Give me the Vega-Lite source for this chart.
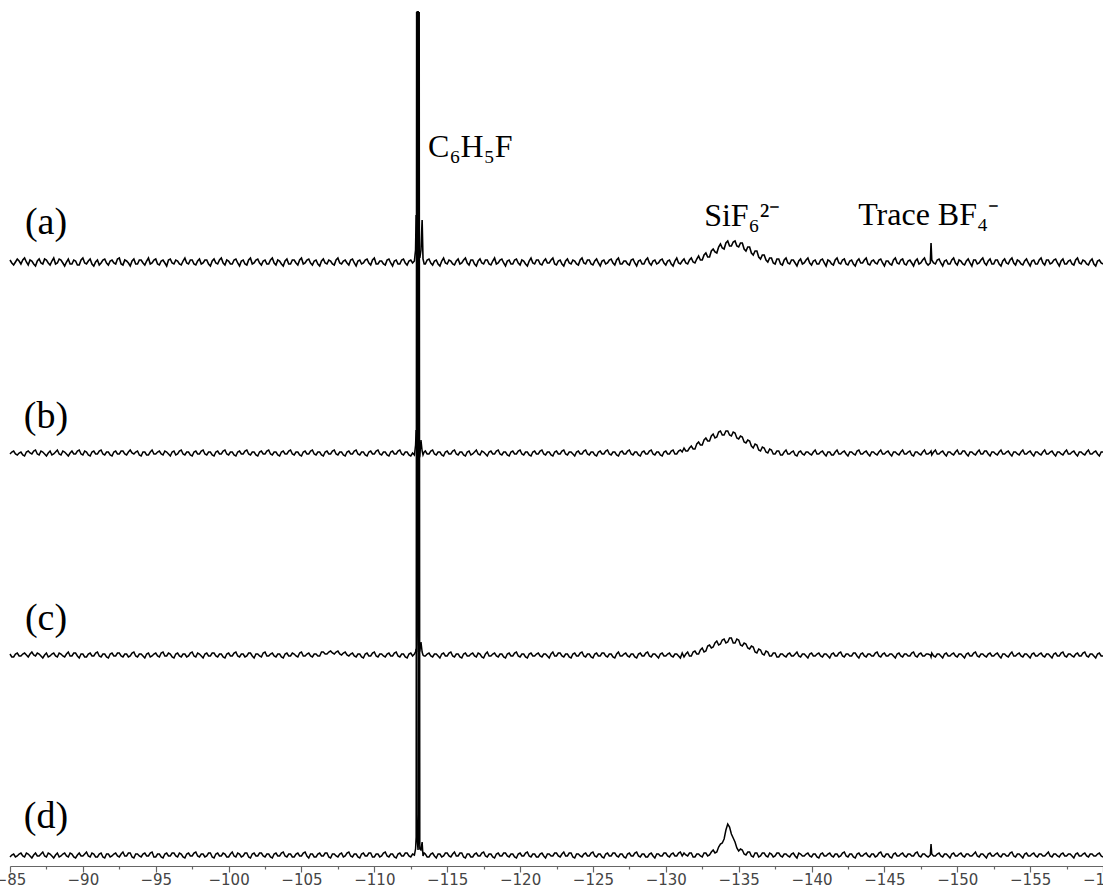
{
"$schema": "https://vega.github.io/schema/vega-lite/v6.json",
"width": 1093,
"height": 866,
"autosize": {"type": "none"},
"padding": {"left": 10, "top": 0, "right": 0, "bottom": 22},
"background": "white",
"config": {"view": {"stroke": null}},
"data": {"values": [
{"p":-85,"a":2,"b":-1,"c":1,"d":-2},{"p":-85.125,"a":-1,"b":1,"c":-2,"d":0},{"p":-85.25,"a":-3,"b":2,"c":-2,"d":1},{"p":-85.375,"a":0,"b":-1,"c":1,"d":-2},
{"p":-85.5,"a":3,"b":-2,"c":2,"d":-1},{"p":-85.625,"a":1,"b":0,"c":-1,"d":1},{"p":-85.75,"a":-2,"b":1,"c":-1,"d":2},{"p":-85.875,"a":2,"b":-2,"c":1,"d":-1},
{"p":-86,"a":4,"b":-3,"c":2,"d":-2},{"p":-86.125,"a":0,"b":1,"c":0,"d":2},{"p":-86.25,"a":-3,"b":2,"c":-2,"d":1},{"p":-86.375,"a":2,"b":0,"c":1,"d":-1},
{"p":-86.5,"a":1,"b":-1,"c":3,"d":-3},{"p":-86.625,"a":-2,"b":2,"c":0,"d":0},{"p":-86.75,"a":-4,"b":3,"c":-1,"d":2},{"p":-86.875,"a":1,"b":-1,"c":2,"d":-1},
{"p":-87,"a":3,"b":-2,"c":1,"d":-1},{"p":-87.125,"a":-1,"b":2,"c":-1,"d":1},{"p":-87.25,"a":-2,"b":1,"c":-3,"d":3},{"p":-87.375,"a":3,"b":-1,"c":0,"d":-1},
{"p":-87.5,"a":2,"b":-3,"c":2,"d":-2},{"p":-87.625,"a":-1,"b":0,"c":-2,"d":2},{"p":-87.75,"a":-3,"b":2,"c":-1,"d":1},{"p":-87.875,"a":1,"b":-2,"c":1,"d":-1},
{"p":-88,"a":4,"b":-1,"c":2,"d":-3},{"p":-88.125,"a":-2,"b":1,"c":-1,"d":0},{"p":-88.25,"a":-1,"b":3,"c":-2,"d":2},{"p":-88.375,"a":3,"b":-1,"c":2,"d":-2},
{"p":-88.5,"a":2,"b":-2,"c":1,"d":-1},{"p":-88.625,"a":-1,"b":2,"c":-1,"d":1},{"p":-88.75,"a":-4,"b":1,"c":-2,"d":2},{"p":-88.875,"a":0,"b":-1,"c":1,"d":-1},
{"p":-89,"a":3,"b":-3,"c":3,"d":-2},{"p":-89.125,"a":-2,"b":0,"c":-1,"d":2},{"p":-89.25,"a":-2,"b":2,"c":-1,"d":1},{"p":-89.375,"a":2,"b":-1,"c":2,"d":-2},
{"p":-89.5,"a":1,"b":-1,"c":2,"d":-3},{"p":-89.625,"a":-3,"b":2,"c":-1,"d":0},{"p":-89.75,"a":-3,"b":3,"c":-3,"d":2},{"p":-89.875,"a":2,"b":-1,"c":1,"d":-1},
{"p":-90,"a":4,"b":-2,"c":1,"d":-1},{"p":-90.125,"a":-1,"b":2,"c":-2,"d":1},{"p":-90.25,"a":-2,"b":1,"c":-2,"d":3},{"p":-90.375,"a":1,"b":-2,"c":1,"d":-1},
{"p":-90.5,"a":3,"b":-3,"c":2,"d":-2},{"p":-90.625,"a":-2,"b":1,"c":-1,"d":2},{"p":-90.75,"a":-4,"b":2,"c":-1,"d":1},{"p":-90.875,"a":0,"b":-1,"c":2,"d":-2},
{"p":-91,"a":2,"b":-1,"c":3,"d":-2},{"p":-91.125,"a":-3,"b":2,"c":-1,"d":1},{"p":-91.25,"a":-1,"b":3,"c":-2,"d":2},{"p":-91.375,"a":2,"b":-1,"c":1,"d":-2},
{"p":-91.5,"a":3,"b":-2,"c":1,"d":-3},{"p":-91.625,"a":-1,"b":1,"c":-2,"d":1},{"p":-91.75,"a":-3,"b":1,"c":-3,"d":1},{"p":-91.875,"a":1,"b":-2,"c":1,"d":-2},
{"p":-92,"a":2,"b":-3,"c":2,"d":-1},{"p":-92.125,"a":-1,"b":1,"c":-1,"d":1},{"p":-92.25,"a":-2,"b":2,"c":-1,"d":2},{"p":-92.375,"a":3,"b":-1,"c":2,"d":-1},
{"p":-92.5,"a":4,"b":-1,"c":2,"d":-2},{"p":-92.625,"a":-2,"b":2,"c":-1,"d":1},{"p":-92.75,"a":-3,"b":2,"c":-2,"d":3},{"p":-92.875,"a":2,"b":-1,"c":1,"d":-1},
{"p":-93,"a":1,"b":-2,"c":1,"d":-1},{"p":-93.125,"a":-1,"b":1,"c":-2,"d":2},{"p":-93.25,"a":-4,"b":3,"c":-1,"d":2},{"p":-93.375,"a":1,"b":0,"c":2,"d":-2},
{"p":-93.5,"a":3,"b":-1,"c":3,"d":-3},{"p":-93.625,"a":-2,"b":1,"c":-1,"d":1},{"p":-93.75,"a":-2,"b":2,"c":-2,"d":1},{"p":-93.875,"a":2,"b":-2,"c":1,"d":-1},
{"p":-94,"a":2,"b":-3,"c":1,"d":-2},{"p":-94.125,"a":-1,"b":1,"c":-1,"d":1},{"p":-94.25,"a":-3,"b":1,"c":-3,"d":2},{"p":-94.375,"a":1,"b":-2,"c":1,"d":-1},
{"p":-94.5,"a":4,"b":-2,"c":2,"d":-1},{"p":-94.625,"a":-2,"b":1,"c":-2,"d":2},{"p":-94.75,"a":-1,"b":3,"c":-1,"d":3},{"p":-94.875,"a":2,"b":-1,"c":1,"d":-2},
{"p":-95,"a":3,"b":-1,"c":2,"d":-2},{"p":-95.125,"a":-2,"b":1,"c":-1,"d":1},{"p":-95.25,"a":-3,"b":2,"c":-2,"d":1},{"p":-95.375,"a":1,"b":-1,"c":2,"d":-2},
{"p":-95.5,"a":2,"b":-2,"c":3,"d":-3},{"p":-95.625,"a":-1,"b":2,"c":-1,"d":1},{"p":-95.75,"a":-4,"b":1,"c":-1,"d":2},{"p":-95.875,"a":2,"b":-1,"c":2,"d":-1},
{"p":-96,"a":3,"b":-3,"c":1,"d":-1},{"p":-96.125,"a":-1,"b":1,"c":-2,"d":2},{"p":-96.25,"a":-2,"b":2,"c":-3,"d":2},{"p":-96.375,"a":2,"b":-2,"c":1,"d":-1},
{"p":-96.5,"a":1,"b":-1,"c":2,"d":-2},{"p":-96.625,"a":-2,"b":2,"c":-1,"d":2},{"p":-96.75,"a":-3,"b":3,"c":-2,"d":1},{"p":-96.875,"a":1,"b":-1,"c":1,"d":-2},
{"p":-97,"a":4,"b":-2,"c":1,"d":-3},{"p":-97.125,"a":-1,"b":1,"c":-2,"d":1},{"p":-97.25,"a":-2,"b":1,"c":-1,"d":2},{"p":-97.375,"a":2,"b":-2,"c":2,"d":-1},
{"p":-97.5,"a":2,"b":-3,"c":3,"d":-1},{"p":-97.625,"a":-2,"b":1,"c":-1,"d":2},{"p":-97.75,"a":-3,"b":2,"c":-2,"d":3},{"p":-97.875,"a":1,"b":-1,"c":2,"d":-1},
{"p":-98,"a":3,"b":-1,"c":1,"d":-2},{"p":-98.125,"a":-2,"b":2,"c":-1,"d":1},{"p":-98.25,"a":-1,"b":3,"c":-3,"d":1},{"p":-98.375,"a":2,"b":-1,"c":1,"d":-2},
{"p":-98.5,"a":2,"b":-2,"c":2,"d":-1},{"p":-98.625,"a":-2,"b":1,"c":-1,"d":2},{"p":-98.75,"a":-4,"b":1,"c":-1,"d":2},{"p":-98.875,"a":1,"b":-2,"c":2,"d":-2},
{"p":-99,"a":3,"b":-3,"c":2,"d":-3},{"p":-99.125,"a":-1,"b":1,"c":-1,"d":1},{"p":-99.25,"a":-2,"b":2,"c":-2,"d":2},{"p":-99.375,"a":2,"b":-1,"c":1,"d":-1},
{"p":-99.5,"a":4,"b":-1,"c":1,"d":-1},{"p":-99.625,"a":-1,"b":2,"c":-2,"d":2},{"p":-99.75,"a":-3,"b":3,"c":-3,"d":1},{"p":-99.875,"a":2,"b":-1,"c":1,"d":-2},
{"p":-100,"a":1,"b":-2,"c":2,"d":-2},{"p":-100.125,"a":-2,"b":1,"c":-1,"d":1},{"p":-100.25,"a":-2,"b":1,"c":-1,"d":3},{"p":-100.375,"a":2,"b":-2,"c":2,"d":-1},
{"p":-100.5,"a":3,"b":-3,"c":3,"d":-2},{"p":-100.625,"a":-1,"b":1,"c":-1,"d":2},{"p":-100.75,"a":-4,"b":2,"c":-2,"d":1},{"p":-100.875,"a":1,"b":-1,"c":1,"d":-2},
{"p":-101,"a":2,"b":-1,"c":1,"d":-1},{"p":-101.125,"a":-2,"b":2,"c":-2,"d":2},{"p":-101.25,"a":-3,"b":3,"c":-1,"d":2},{"p":-101.375,"a":2,"b":-1,"c":2,"d":-2},
{"p":-101.5,"a":4,"b":-2,"c":2,"d":-3},{"p":-101.625,"a":-2,"b":1,"c":-1,"d":1},{"p":-101.75,"a":-1,"b":1,"c":-3,"d":2},{"p":-101.875,"a":2,"b":-2,"c":1,"d":-1},
{"p":-102,"a":3,"b":-3,"c":1,"d":-1},{"p":-102.125,"a":-1,"b":1,"c":-1,"d":2},{"p":-102.25,"a":-3,"b":2,"c":-2,"d":2},{"p":-102.375,"a":1,"b":-1,"c":2,"d":-1},
{"p":-102.5,"a":2,"b":-1,"c":3,"d":-2},{"p":-102.625,"a":-2,"b":2,"c":-1,"d":1},{"p":-102.75,"a":-2,"b":3,"c":-1,"d":1},{"p":-102.875,"a":2,"b":-1,"c":1,"d":-2},
{"p":-103,"a":4,"b":-2,"c":2,"d":-3},{"p":-103.125,"a":-1,"b":1,"c":-1,"d":1},{"p":-103.25,"a":-3,"b":1,"c":-2,"d":2},{"p":-103.375,"a":2,"b":-2,"c":1,"d":-1},
{"p":-103.5,"a":1,"b":-3,"c":1,"d":-1},{"p":-103.625,"a":-2,"b":1,"c":-2,"d":2},{"p":-103.75,"a":-4,"b":2,"c":-3,"d":3},{"p":-103.875,"a":1,"b":-1,"c":1,"d":-1},
{"p":-104,"a":3,"b":-1,"c":2,"d":-2},{"p":-104.125,"a":-2,"b":2,"c":-1,"d":1},{"p":-104.25,"a":-2,"b":3,"c":-1,"d":1},{"p":-104.375,"a":2,"b":-1,"c":2,"d":-2},
{"p":-104.5,"a":2,"b":-2,"c":1,"d":-2},{"p":-104.625,"a":-1,"b":1,"c":-1,"d":1},{"p":-104.75,"a":-3,"b":1,"c":-2,"d":2},{"p":-104.875,"a":2,"b":-2,"c":2,"d":-1},
{"p":-105,"a":4,"b":-3,"c":3,"d":-1},{"p":-105.125,"a":-2,"b":1,"c":-1,"d":2},{"p":-105.25,"a":-1,"b":2,"c":-1,"d":3},{"p":-105.375,"a":2,"b":-1,"c":1,"d":-1},
{"p":-105.5,"a":3,"b":-1,"c":2,"d":-3},{"p":-105.625,"a":-1,"b":2,"c":-1,"d":1},{"p":-105.75,"a":-3,"b":3,"c":-2,"d":1},{"p":-105.875,"a":1,"b":-1,"c":1,"d":-2},
{"p":-106,"a":2,"b":-2,"c":1,"d":-2},{"p":-106.125,"a":-2,"b":1,"c":-1,"d":1},{"p":-106.25,"a":-4,"b":1,"c":-1,"d":2},{"p":-106.375,"a":1,"b":-2,"c":3,"d":-1},
{"p":-106.5,"a":3,"b":-3,"c":3,"d":-1},{"p":-106.625,"a":-1,"b":1,"c":1,"d":2},{"p":-106.75,"a":-2,"b":2,"c":1,"d":2},{"p":-106.875,"a":2,"b":-1,"c":3,"d":-2},
{"p":-107,"a":1,"b":-1,"c":4,"d":-3},{"p":-107.125,"a":-2,"b":2,"c":2,"d":1},{"p":-107.25,"a":-3,"b":3,"c":1,"d":1},{"p":-107.375,"a":2,"b":-1,"c":3,"d":-1},
{"p":-107.5,"a":4,"b":-2,"c":4,"d":-2},{"p":-107.625,"a":-1,"b":1,"c":1,"d":1},{"p":-107.75,"a":-2,"b":1,"c":0,"d":2},{"p":-107.875,"a":1,"b":-2,"c":2,"d":-2},
{"p":-108,"a":2,"b":-3,"c":3,"d":-1},{"p":-108.125,"a":-1,"b":1,"c":0,"d":2},{"p":-108.25,"a":-3,"b":2,"c":-1,"d":3},{"p":-108.375,"a":2,"b":-1,"c":1,"d":-1},
{"p":-108.5,"a":3,"b":-1,"c":2,"d":-2},{"p":-108.625,"a":-1,"b":2,"c":-1,"d":1},{"p":-108.75,"a":-4,"b":3,"c":-2,"d":1},{"p":-108.875,"a":1,"b":-1,"c":1,"d":-2},
{"p":-109,"a":2,"b":-2,"c":1,"d":-3},{"p":-109.125,"a":-2,"b":1,"c":-2,"d":1},{"p":-109.25,"a":-1,"b":1,"c":-3,"d":2},{"p":-109.375,"a":2,"b":-2,"c":1,"d":-1},
{"p":-109.5,"a":3,"b":-3,"c":2,"d":-1},{"p":-109.625,"a":-1,"b":1,"c":-1,"d":2},{"p":-109.75,"a":-3,"b":2,"c":-1,"d":2},{"p":-109.875,"a":2,"b":-1,"c":2,"d":-2},
{"p":-110,"a":4,"b":-1,"c":3,"d":-2},{"p":-110.125,"a":-2,"b":2,"c":-1,"d":1},{"p":-110.25,"a":-2,"b":3,"c":-2,"d":1},{"p":-110.375,"a":1,"b":-1,"c":1,"d":-2},
{"p":-110.5,"a":1,"b":-2,"c":1,"d":-1},{"p":-110.625,"a":-2,"b":1,"c":-1,"d":2},{"p":-110.75,"a":-3,"b":1,"c":-2,"d":3},{"p":-110.875,"a":2,"b":-2,"c":1,"d":-1},
{"p":-111,"a":3,"b":-3,"c":2,"d":-2},{"p":-111.125,"a":-1,"b":1,"c":-1,"d":1},{"p":-111.25,"a":-4,"b":2,"c":-1,"d":1},{"p":-111.375,"a":1,"b":-1,"c":2,"d":-2},
{"p":-111.5,"a":2,"b":-1,"c":3,"d":-3},{"p":-111.625,"a":-2,"b":2,"c":-1,"d":1},{"p":-111.75,"a":-2,"b":3,"c":-2,"d":2},{"p":-111.875,"a":2,"b":-1,"c":1,"d":-1},
{"p":-112,"a":3,"b":-2,"c":1,"d":-1},{"p":-112.125,"a":-1,"b":1,"c":-2,"d":2},{"p":-112.25,"a":-3,"b":1,"c":-3,"d":2},{"p":-112.375,"a":1,"b":-2,"c":1,"d":-1},
{"p":-112.5,"a":2,"b":-3,"c":2,"d":-2},{"p":-112.625,"a":-1,"b":0,"c":-1,"d":1},
{"p":-112.75,"a":1,"b":-2,"c":1,"d":0},{"p":-112.83,"a":12,"b":8,"c":3,"d":6},{"p":-112.87,"a":47,"b":23,"c":6,"d":18},{"p":-112.9,"a":20,"b":10,"c":3,"d":843},
{"p":-112.93,"a":60,"b":20,"c":20,"d":40},{"p":-112.96,"a":250,"b":441,"c":643,"d":12},{"p":-113.0,"a":250,"b":441,"c":643,"d":5},{"p":-113.04,"a":20,"b":-8,"c":10,"d":20},
{"p":-113.08,"a":6,"b":-5,"c":3,"d":843},{"p":-113.12,"a":4,"b":-3,"c":4,"d":6},{"p":-113.2,"a":12,"b":13,"c":13,"d":5},{"p":-113.28,"a":42,"b":2,"c":3,"d":13},
{"p":-113.34,"a":3,"b":-2,"c":0,"d":-1},{"p":-113.42,"a":-2,"b":1,"c":-1,"d":2},
{"p":-113.5,"a":-2,"b":2,"c":-1,"d":1},{"p":-113.625,"a":2,"b":-1,"c":1,"d":-2},{"p":-113.75,"a":3,"b":-1,"c":2,"d":-2},{"p":-113.875,"a":-1,"b":2,"c":-1,"d":1},
{"p":-114,"a":-3,"b":3,"c":-2,"d":2},{"p":-114.125,"a":1,"b":-1,"c":1,"d":-1},{"p":-114.25,"a":2,"b":-2,"c":1,"d":-3},{"p":-114.375,"a":-2,"b":1,"c":-1,"d":1},
{"p":-114.5,"a":-4,"b":1,"c":-3,"d":1},{"p":-114.625,"a":1,"b":-2,"c":1,"d":-2},{"p":-114.75,"a":4,"b":-3,"c":2,"d":-1},{"p":-114.875,"a":-1,"b":1,"c":-1,"d":2},
{"p":-115,"a":-2,"b":2,"c":-1,"d":2},{"p":-115.125,"a":2,"b":-1,"c":2,"d":-1},{"p":-115.25,"a":1,"b":-1,"c":3,"d":-2},{"p":-115.375,"a":-2,"b":2,"c":-1,"d":1},
{"p":-115.5,"a":-3,"b":3,"c":-2,"d":3},{"p":-115.625,"a":1,"b":-1,"c":1,"d":-1},{"p":-115.75,"a":3,"b":-2,"c":1,"d":-1},{"p":-115.875,"a":-2,"b":1,"c":-2,"d":2},
{"p":-116,"a":-1,"b":1,"c":-3,"d":2},{"p":-116.125,"a":2,"b":-2,"c":1,"d":-2},{"p":-116.25,"a":4,"b":-3,"c":2,"d":-3},{"p":-116.375,"a":-1,"b":1,"c":-1,"d":1},
{"p":-116.5,"a":-3,"b":2,"c":-1,"d":1},{"p":-116.625,"a":2,"b":-2,"c":1,"d":-2},{"p":-116.75,"a":2,"b":-1,"c":2,"d":-2},{"p":-116.875,"a":-2,"b":1,"c":-1,"d":1},
{"p":-117,"a":-4,"b":3,"c":-2,"d":2},{"p":-117.125,"a":1,"b":-1,"c":2,"d":-1},{"p":-117.25,"a":3,"b":-2,"c":1,"d":-1},{"p":-117.375,"a":-1,"b":2,"c":-2,"d":2},
{"p":-117.5,"a":-2,"b":1,"c":-3,"d":3},{"p":-117.625,"a":2,"b":-1,"c":1,"d":-1},{"p":-117.75,"a":2,"b":-3,"c":3,"d":-2},{"p":-117.875,"a":-2,"b":1,"c":-1,"d":1},
{"p":-118,"a":-3,"b":2,"c":-1,"d":1},{"p":-118.125,"a":1,"b":-1,"c":1,"d":-2},{"p":-118.25,"a":4,"b":-1,"c":2,"d":-3},{"p":-118.375,"a":-2,"b":2,"c":-1,"d":1},
{"p":-118.5,"a":-1,"b":3,"c":-2,"d":2},{"p":-118.625,"a":2,"b":-1,"c":1,"d":-1},{"p":-118.75,"a":3,"b":-2,"c":1,"d":-1},{"p":-118.875,"a":-1,"b":1,"c":-2,"d":2},
{"p":-119,"a":-4,"b":1,"c":-3,"d":2},{"p":-119.125,"a":1,"b":-2,"c":1,"d":-1},{"p":-119.25,"a":2,"b":-3,"c":2,"d":-2},{"p":-119.375,"a":-2,"b":1,"c":-1,"d":1},
{"p":-119.5,"a":-2,"b":2,"c":-1,"d":1},{"p":-119.625,"a":2,"b":-1,"c":2,"d":-2},{"p":-119.75,"a":3,"b":-1,"c":3,"d":-3},{"p":-119.875,"a":-1,"b":2,"c":-1,"d":1},
{"p":-120,"a":-3,"b":3,"c":-2,"d":2},{"p":-120.125,"a":2,"b":-1,"c":1,"d":-1},{"p":-120.25,"a":1,"b":-2,"c":1,"d":-1},{"p":-120.375,"a":-2,"b":1,"c":-2,"d":2},
{"p":-120.5,"a":-4,"b":1,"c":-3,"d":3},{"p":-120.625,"a":1,"b":-2,"c":1,"d":-1},{"p":-120.75,"a":4,"b":-3,"c":2,"d":-2},{"p":-120.875,"a":-1,"b":1,"c":-1,"d":1},
{"p":-121,"a":-2,"b":2,"c":-1,"d":1},{"p":-121.125,"a":2,"b":-1,"c":1,"d":-2},{"p":-121.25,"a":2,"b":-1,"c":2,"d":-2},{"p":-121.375,"a":-2,"b":2,"c":-1,"d":1},
{"p":-121.5,"a":-3,"b":3,"c":-2,"d":2},{"p":-121.625,"a":1,"b":-1,"c":1,"d":-1},{"p":-121.75,"a":3,"b":-2,"c":1,"d":-3},{"p":-121.875,"a":-1,"b":1,"c":-1,"d":1},
{"p":-122,"a":-1,"b":1,"c":-3,"d":1},{"p":-122.125,"a":2,"b":-2,"c":1,"d":-1},{"p":-122.25,"a":4,"b":-3,"c":3,"d":-1},{"p":-122.375,"a":-2,"b":1,"c":-1,"d":2},
{"p":-122.5,"a":-3,"b":2,"c":-1,"d":2},{"p":-122.625,"a":1,"b":-1,"c":2,"d":-1},{"p":-122.75,"a":2,"b":-1,"c":2,"d":-2},{"p":-122.875,"a":-2,"b":2,"c":-1,"d":1},
{"p":-123,"a":-4,"b":3,"c":-2,"d":3},{"p":-123.125,"a":1,"b":-1,"c":1,"d":-1},{"p":-123.25,"a":3,"b":-2,"c":1,"d":-1},{"p":-123.375,"a":-1,"b":1,"c":-2,"d":2},
{"p":-123.5,"a":-2,"b":1,"c":-3,"d":2},{"p":-123.625,"a":2,"b":-1,"c":1,"d":-2},{"p":-123.75,"a":1,"b":-3,"c":2,"d":-3},{"p":-123.875,"a":-2,"b":1,"c":-1,"d":1},
{"p":-124,"a":-3,"b":2,"c":-1,"d":1},{"p":-124.125,"a":2,"b":-1,"c":2,"d":-1},{"p":-124.25,"a":4,"b":-1,"c":3,"d":-2},{"p":-124.375,"a":-1,"b":2,"c":-1,"d":1},
{"p":-124.5,"a":-2,"b":3,"c":-2,"d":2},{"p":-124.625,"a":2,"b":-1,"c":1,"d":-1},{"p":-124.75,"a":2,"b":-2,"c":1,"d":-1},{"p":-124.875,"a":-2,"b":1,"c":-2,"d":2},
{"p":-125,"a":-3,"b":1,"c":-3,"d":3},{"p":-125.125,"a":1,"b":-2,"c":1,"d":-1},{"p":-125.25,"a":3,"b":-3,"c":2,"d":-2},{"p":-125.375,"a":-1,"b":1,"c":-1,"d":1},
{"p":-125.5,"a":-4,"b":2,"c":-1,"d":1},{"p":-125.625,"a":1,"b":-1,"c":2,"d":-2},{"p":-125.75,"a":2,"b":-1,"c":2,"d":-3},{"p":-125.875,"a":-2,"b":2,"c":-1,"d":1},
{"p":-126,"a":-1,"b":3,"c":-2,"d":2},{"p":-126.125,"a":2,"b":-1,"c":1,"d":-1},{"p":-126.25,"a":3,"b":-2,"c":1,"d":-1},{"p":-126.375,"a":-1,"b":1,"c":-2,"d":2},
{"p":-126.5,"a":-3,"b":1,"c":-3,"d":2},{"p":-126.625,"a":2,"b":-2,"c":1,"d":-1},{"p":-126.75,"a":4,"b":-3,"c":3,"d":-2},{"p":-126.875,"a":-2,"b":1,"c":-1,"d":1},
{"p":-127,"a":-2,"b":2,"c":-1,"d":1},{"p":-127.125,"a":1,"b":-1,"c":1,"d":-2},{"p":-127.25,"a":1,"b":-1,"c":2,"d":-3},{"p":-127.375,"a":-2,"b":2,"c":-1,"d":1},
{"p":-127.5,"a":-3,"b":3,"c":-2,"d":2},{"p":-127.625,"a":2,"b":-1,"c":1,"d":-1},{"p":-127.75,"a":3,"b":-2,"c":1,"d":-1},{"p":-127.875,"a":-1,"b":1,"c":-2,"d":2},
{"p":-128,"a":-4,"b":1,"c":-3,"d":3},{"p":-128.125,"a":1,"b":-2,"c":1,"d":-1},{"p":-128.25,"a":2,"b":-3,"c":2,"d":-2},{"p":-128.375,"a":-2,"b":1,"c":-1,"d":1},
{"p":-128.5,"a":-2,"b":2,"c":-1,"d":1},{"p":-128.625,"a":2,"b":-1,"c":2,"d":-2},{"p":-128.75,"a":4,"b":-1,"c":3,"d":-2},{"p":-128.875,"a":-1,"b":2,"c":-1,"d":1},
{"p":-129,"a":-3,"b":3,"c":-2,"d":2},{"p":-129.125,"a":1,"b":-1,"c":1,"d":-1},{"p":-129.25,"a":2,"b":-2,"c":1,"d":-3},{"p":-129.375,"a":-2,"b":1,"c":-1,"d":1},
{"p":-129.5,"a":-1,"b":1,"c":-3,"d":1},{"p":-129.625,"a":2,"b":-2,"c":1,"d":-1},{"p":-129.75,"a":3,"b":-3,"c":2,"d":-1},{"p":-129.875,"a":-1,"b":1,"c":-1,"d":2},
{"p":-130,"a":-3,"b":2,"c":-1,"d":2},{"p":-130.125,"a":1,"b":-1,"c":1,"d":-1},{"p":-130.25,"a":2,"b":-1,"c":2,"d":-2},{"p":-130.375,"a":-2,"b":2,"c":-1,"d":1},
{"p":-130.5,"a":-4,"b":3,"c":-2,"d":2},{"p":-130.625,"a":1,"b":-1,"c":1,"d":-1},{"p":-130.75,"a":4,"b":-1,"c":1,"d":-1},{"p":-130.875,"a":-1,"b":2,"c":-1,"d":2},
{"p":-131,"a":-2,"b":3,"c":-3,"d":3},{"p":-131.125,"a":1,"b":1,"c":2,"d":-1},{"p":-131.25,"a":3,"b":5,"c":-2,"d":2},{"p":-131.375,"a":-1,"b":2,"c":1,"d":0},
{"p":-131.5,"a":-2,"b":2,"c":3,"d":-1},{"p":-131.625,"a":2,"b":5,"c":-1,"d":2},{"p":-131.75,"a":4,"b":7,"c":-1,"d":2},{"p":-131.875,"a":0,"b":4,"c":3,"d":-2},
{"p":-132,"a":-1,"b":4,"c":4,"d":-2},{"p":-132.125,"a":3,"b":9,"c":1,"d":1},{"p":-132.25,"a":6,"b":11,"c":1,"d":1},{"p":-132.375,"a":2,"b":8,"c":5,"d":-1},
{"p":-132.5,"a":2,"b":8,"c":7,"d":-2},{"p":-132.625,"a":7,"b":13,"c":3,"d":2},{"p":-132.75,"a":9,"b":15,"c":4,"d":2},{"p":-132.875,"a":5,"b":12,"c":9,"d":-1},
{"p":-133,"a":5,"b":12,"c":10,"d":0},{"p":-133.125,"a":11,"b":17,"c":7,"d":3},{"p":-133.25,"a":13,"b":19,"c":8,"d":5},{"p":-133.375,"a":10,"b":15,"c":12,"d":2},
{"p":-133.5,"a":9,"b":16,"c":14,"d":3},{"p":-133.625,"a":15,"b":21,"c":10,"d":8},{"p":-133.75,"a":18,"b":22,"c":11,"d":11},{"p":-133.875,"a":14,"b":18,"c":15,"d":12},
{"p":-134,"a":13,"b":18,"c":16,"d":16},{"p":-134.125,"a":19,"b":22,"c":12,"d":25},{"p":-134.25,"a":21,"b":22,"c":13,"d":31},{"p":-134.375,"a":16,"b":18,"c":17,"d":28},
{"p":-134.5,"a":16,"b":17,"c":17,"d":21},{"p":-134.625,"a":20,"b":21,"c":12,"d":17},{"p":-134.75,"a":21,"b":20,"c":12,"d":13},{"p":-134.875,"a":16,"b":15,"c":16,"d":7},
{"p":-135,"a":15,"b":14,"c":15,"d":4},{"p":-135.125,"a":19,"b":17,"c":10,"d":6},{"p":-135.25,"a":19,"b":16,"c":9,"d":5},{"p":-135.375,"a":13,"b":11,"c":12,"d":1},
{"p":-135.5,"a":11,"b":10,"c":11,"d":0},{"p":-135.625,"a":15,"b":13,"c":7,"d":3},{"p":-135.75,"a":15,"b":12,"c":6,"d":3},{"p":-135.875,"a":9,"b":7,"c":9,"d":-1},
{"p":-136,"a":7,"b":5,"c":8,"d":-2},{"p":-136.125,"a":11,"b":9,"c":3,"d":2},{"p":-136.25,"a":11,"b":8,"c":2,"d":2},{"p":-136.375,"a":5,"b":3,"c":6,"d":-2},
{"p":-136.5,"a":3,"b":2,"c":5,"d":-1},{"p":-136.625,"a":7,"b":6,"c":1,"d":2},{"p":-136.75,"a":7,"b":5,"c":0,"d":2},{"p":-136.875,"a":2,"b":1,"c":4,"d":-1},
{"p":-137,"a":0,"b":0,"c":3,"d":-2},{"p":-137.125,"a":4,"b":4,"c":-1,"d":2},{"p":-137.25,"a":4,"b":3,"c":-1,"d":1},{"p":-137.375,"a":-1,"b":-1,"c":2,"d":-2},
{"p":-137.5,"a":-2,"b":-1,"c":2,"d":-1},{"p":-137.625,"a":3,"b":2,"c":-2,"d":2},{"p":-137.75,"a":3,"b":2,"c":-2,"d":2},{"p":-137.875,"a":-2,"b":-2,"c":1,"d":-1},
{"p":-138,"a":-3,"b":-2,"c":1,"d":-2},{"p":-138.125,"a":2,"b":1,"c":-1,"d":1},{"p":-138.25,"a":4,"b":3,"c":-2,"d":1},{"p":-138.375,"a":-1,"b":-1,"c":1,"d":-1},
{"p":-138.5,"a":-2,"b":-1,"c":2,"d":-2},{"p":-138.625,"a":2,"b":1,"c":-1,"d":1},{"p":-138.75,"a":2,"b":2,"c":-1,"d":2},{"p":-138.875,"a":-1,"b":-2,"c":1,"d":-1},
{"p":-139,"a":-4,"b":-3,"c":3,"d":-3},{"p":-139.125,"a":1,"b":1,"c":-1,"d":2},{"p":-139.25,"a":3,"b":2,"c":-2,"d":1},{"p":-139.375,"a":-2,"b":-1,"c":1,"d":-1},
{"p":-139.5,"a":-1,"b":-2,"c":1,"d":-1},{"p":-139.625,"a":2,"b":1,"c":-1,"d":1},{"p":-139.75,"a":4,"b":1,"c":-3,"d":2},{"p":-139.875,"a":-1,"b":-1,"c":1,"d":-1},
{"p":-140,"a":-3,"b":-2,"c":2,"d":-2},{"p":-140.125,"a":1,"b":1,"c":-1,"d":1},{"p":-140.25,"a":2,"b":3,"c":-1,"d":1},{"p":-140.375,"a":-2,"b":-1,"c":1,"d":-2},
{"p":-140.5,"a":-2,"b":-1,"c":2,"d":-3},{"p":-140.625,"a":2,"b":1,"c":-1,"d":1},{"p":-140.75,"a":3,"b":2,"c":-2,"d":2},{"p":-140.875,"a":-1,"b":-1,"c":1,"d":-1},
{"p":-141,"a":-4,"b":-3,"c":1,"d":-1},{"p":-141.125,"a":2,"b":1,"c":-1,"d":1},{"p":-141.25,"a":1,"b":1,"c":-3,"d":2},{"p":-141.375,"a":-2,"b":-2,"c":1,"d":-1},
{"p":-141.5,"a":-3,"b":-2,"c":2,"d":-2},{"p":-141.625,"a":2,"b":1,"c":-1,"d":1},{"p":-141.75,"a":4,"b":3,"c":-1,"d":1},{"p":-141.875,"a":-1,"b":-1,"c":2,"d":-2},
{"p":-142,"a":-2,"b":-1,"c":3,"d":-1},{"p":-142.125,"a":2,"b":1,"c":-1,"d":2},{"p":-142.25,"a":3,"b":2,"c":-2,"d":3},{"p":-142.375,"a":-2,"b":-1,"c":1,"d":-1},
{"p":-142.5,"a":-3,"b":-3,"c":1,"d":-2},{"p":-142.625,"a":1,"b":1,"c":-1,"d":1},{"p":-142.75,"a":2,"b":1,"c":-1,"d":1},{"p":-142.875,"a":-2,"b":-1,"c":2,"d":-2},
{"p":-143,"a":-4,"b":-2,"c":2,"d":-3},{"p":-143.125,"a":1,"b":2,"c":-1,"d":1},{"p":-143.25,"a":3,"b":3,"c":-3,"d":2},{"p":-143.375,"a":-1,"b":-1,"c":1,"d":-1},
{"p":-143.5,"a":-1,"b":-1,"c":2,"d":-1},{"p":-143.625,"a":2,"b":1,"c":-1,"d":1},{"p":-143.75,"a":4,"b":2,"c":-2,"d":2},{"p":-143.875,"a":-2,"b":-1,"c":1,"d":-1},
{"p":-144,"a":-3,"b":-3,"c":1,"d":-2},{"p":-144.125,"a":1,"b":1,"c":-1,"d":1},{"p":-144.25,"a":2,"b":1,"c":-1,"d":1},{"p":-144.375,"a":-1,"b":-1,"c":2,"d":-2},
{"p":-144.5,"a":-2,"b":-2,"c":3,"d":-1},{"p":-144.625,"a":2,"b":1,"c":-1,"d":2},{"p":-144.75,"a":3,"b":3,"c":-2,"d":3},{"p":-144.875,"a":-1,"b":-1,"c":1,"d":-1},
{"p":-145,"a":-4,"b":-1,"c":2,"d":-2},{"p":-145.125,"a":1,"b":1,"c":-1,"d":1},{"p":-145.25,"a":1,"b":2,"c":-1,"d":1},{"p":-145.375,"a":-2,"b":-1,"c":1,"d":-2},
{"p":-145.5,"a":-3,"b":-3,"c":1,"d":-3},{"p":-145.625,"a":2,"b":1,"c":-1,"d":1},{"p":-145.75,"a":4,"b":1,"c":-3,"d":2},{"p":-145.875,"a":-1,"b":-1,"c":1,"d":-1},
{"p":-146,"a":-2,"b":-2,"c":2,"d":-1},{"p":-146.125,"a":2,"b":1,"c":-1,"d":1},{"p":-146.25,"a":3,"b":3,"c":-2,"d":2},{"p":-146.375,"a":-2,"b":-1,"c":1,"d":-1},
{"p":-146.5,"a":-3,"b":-1,"c":1,"d":-2},{"p":-146.625,"a":1,"b":1,"c":-1,"d":1},{"p":-146.75,"a":2,"b":2,"c":-1,"d":1},{"p":-146.875,"a":-1,"b":-2,"c":2,"d":-1},
{"p":-147,"a":-4,"b":-3,"c":3,"d":-1},{"p":-147.125,"a":1,"b":1,"c":-1,"d":2},{"p":-147.25,"a":3,"b":1,"c":-2,"d":3},{"p":-147.375,"a":-2,"b":-1,"c":1,"d":-1},
{"p":-147.5,"a":-1,"b":-2,"c":2,"d":-2},{"p":-147.625,"a":2,"b":1,"c":-1,"d":1},{"p":-147.75,"a":4,"b":3,"c":-1,"d":1},{"p":-147.875,"a":-1,"b":-1,"c":1,"d":-1},
{"p":-148,"a":-3,"b":-1,"c":1,"d":-2},{"p":-148.15,"a":-1,"b":1,"c":0,"d":0},{"p":-148.2,"a":19,"b":2,"c":-2,"d":11},{"p":-148.25,"a":2,"b":-2,"c":2,"d":1},
{"p":-148.375,"a":-1,"b":1,"c":-1,"d":-1},{"p":-148.5,"a":-2,"b":3,"c":-2,"d":-1},{"p":-148.625,"a":2,"b":-1,"c":1,"d":1},{"p":-148.75,"a":3,"b":-1,"c":1,"d":2},
{"p":-148.875,"a":-1,"b":1,"c":-1,"d":-1},{"p":-149,"a":-4,"b":2,"c":-3,"d":-2},{"p":-149.125,"a":1,"b":-1,"c":1,"d":1},{"p":-149.25,"a":2,"b":-3,"c":2,"d":1},
{"p":-149.375,"a":-2,"b":1,"c":-1,"d":-1},{"p":-149.5,"a":-2,"b":1,"c":-1,"d":-3},{"p":-149.625,"a":2,"b":-1,"c":1,"d":1},{"p":-149.75,"a":4,"b":-2,"c":2,"d":2},
{"p":-149.875,"a":-1,"b":1,"c":-1,"d":-1},{"p":-150,"a":-3,"b":3,"c":-2,"d":-1},{"p":-150.125,"a":2,"b":-1,"c":1,"d":1},{"p":-150.25,"a":1,"b":-1,"c":1,"d":2},
{"p":-150.375,"a":-2,"b":2,"c":-1,"d":-1},{"p":-150.5,"a":-3,"b":2,"c":-3,"d":-2},{"p":-150.625,"a":1,"b":-1,"c":1,"d":1},{"p":-150.75,"a":3,"b":-3,"c":2,"d":1},
{"p":-150.875,"a":-1,"b":1,"c":-1,"d":-1},{"p":-151,"a":-4,"b":1,"c":-1,"d":-1},{"p":-151.125,"a":2,"b":-1,"c":2,"d":1},{"p":-151.25,"a":2,"b":-2,"c":3,"d":3},
{"p":-151.375,"a":-2,"b":1,"c":-1,"d":-1},{"p":-151.5,"a":-1,"b":3,"c":-2,"d":-2},{"p":-151.625,"a":2,"b":-1,"c":1,"d":1},{"p":-151.75,"a":4,"b":-1,"c":1,"d":1},
{"p":-151.875,"a":-1,"b":2,"c":-1,"d":-1},{"p":-152,"a":-3,"b":2,"c":-2,"d":-3},{"p":-152.125,"a":1,"b":-1,"c":1,"d":1},{"p":-152.25,"a":3,"b":-3,"c":2,"d":2},
{"p":-152.375,"a":-2,"b":1,"c":-1,"d":-1},{"p":-152.5,"a":-2,"b":1,"c":-1,"d":-1},{"p":-152.625,"a":2,"b":-1,"c":1,"d":1},{"p":-152.75,"a":2,"b":-2,"c":2,"d":2},
{"p":-152.875,"a":-2,"b":1,"c":-1,"d":-1},{"p":-153,"a":-4,"b":3,"c":-3,"d":-2},{"p":-153.125,"a":1,"b":-1,"c":1,"d":1},{"p":-153.25,"a":3,"b":-1,"c":1,"d":1},
{"p":-153.375,"a":-1,"b":1,"c":-1,"d":-1},{"p":-153.5,"a":-2,"b":2,"c":-2,"d":-1},{"p":-153.625,"a":2,"b":-1,"c":1,"d":2},{"p":-153.75,"a":4,"b":-3,"c":3,"d":3},
{"p":-153.875,"a":-1,"b":1,"c":-1,"d":-1},{"p":-154,"a":-3,"b":1,"c":-1,"d":-2},{"p":-154.125,"a":2,"b":-1,"c":1,"d":1},{"p":-154.25,"a":1,"b":-2,"c":2,"d":1},
{"p":-154.375,"a":-2,"b":1,"c":-1,"d":-1},{"p":-154.5,"a":-3,"b":3,"c":-2,"d":-3},{"p":-154.625,"a":1,"b":-1,"c":1,"d":1},{"p":-154.75,"a":3,"b":-1,"c":1,"d":2},
{"p":-154.875,"a":-1,"b":1,"c":-1,"d":-1},{"p":-155,"a":-4,"b":2,"c":-3,"d":-1},{"p":-155.125,"a":1,"b":-1,"c":1,"d":1},{"p":-155.25,"a":2,"b":-3,"c":2,"d":2},
{"p":-155.375,"a":-2,"b":1,"c":-1,"d":-1},{"p":-155.5,"a":-2,"b":1,"c":-1,"d":-2},{"p":-155.625,"a":2,"b":-1,"c":1,"d":1},{"p":-155.75,"a":4,"b":-2,"c":2,"d":1},
{"p":-155.875,"a":-1,"b":1,"c":-1,"d":-1},{"p":-156,"a":-3,"b":3,"c":-2,"d":-1},{"p":-156.125,"a":2,"b":-1,"c":1,"d":1},{"p":-156.25,"a":2,"b":-1,"c":1,"d":3},
{"p":-156.375,"a":-2,"b":1,"c":-1,"d":-1},{"p":-156.5,"a":-1,"b":2,"c":-3,"d":-2},{"p":-156.625,"a":2,"b":-1,"c":1,"d":1},{"p":-156.75,"a":3,"b":-3,"c":2,"d":1},
{"p":-156.875,"a":-1,"b":1,"c":-1,"d":-1},{"p":-157,"a":-4,"b":1,"c":-1,"d":-2},{"p":-157.125,"a":1,"b":-1,"c":2,"d":1},{"p":-157.25,"a":3,"b":-2,"c":3,"d":2},
{"p":-157.375,"a":-2,"b":1,"c":-1,"d":-1},{"p":-157.5,"a":-2,"b":3,"c":-2,"d":-1},{"p":-157.625,"a":1,"b":-1,"c":1,"d":1},{"p":-157.75,"a":2,"b":-1,"c":1,"d":1},
{"p":-157.875,"a":-2,"b":1,"c":-1,"d":-1},{"p":-158,"a":-3,"b":2,"c":-2,"d":-3},{"p":-158.125,"a":2,"b":-1,"c":1,"d":1},{"p":-158.25,"a":4,"b":-3,"c":2,"d":2},
{"p":-158.375,"a":-1,"b":1,"c":-1,"d":-1},{"p":-158.5,"a":-2,"b":1,"c":-1,"d":-1},{"p":-158.625,"a":2,"b":-1,"c":2,"d":1},{"p":-158.75,"a":1,"b":-2,"c":3,"d":2},
{"p":-158.875,"a":-2,"b":1,"c":-1,"d":-1},{"p":-159,"a":-3,"b":3,"c":-2,"d":-2},{"p":-159.125,"a":1,"b":-1,"c":1,"d":1},{"p":-159.25,"a":3,"b":-1,"c":1,"d":1},
{"p":-159.375,"a":-2,"b":1,"c":-1,"d":-1},{"p":-159.5,"a":-4,"b":2,"c":-3,"d":-1},{"p":-159.625,"a":1,"b":-1,"c":1,"d":1},{"p":-159.75,"a":2,"b":-3,"c":2,"d":2},
{"p":-159.875,"a":-1,"b":1,"c":-1,"d":-1},{"p":-160,"a":-2,"b":1,"c":-1,"d":-2}
]},
"encoding": {
  "x": {"field": "p", "type": "quantitative",
    "scale": {"domain": [-85, -160], "nice": false, "zero": false},
    "axis": {
      "title": null, "grid": false,
      "values": [-85,-87.5,-90,-92.5,-95,-97.5,-100,-102.5,-105,-107.5,-110,-112.5,-115,-117.5,-120,-122.5,-125,-127.5,-130,-132.5,-135,-137.5,-140,-142.5,-145,-147.5,-150,-152.5,-155,-157.5,-160],
      "labelExpr": "datum.value % 5 === 0 ? format(datum.value, 'd') : ''",
      "tickSize": {"condition": {"test": "datum.value % 5 === 0", "value": 6}, "value": 3},
      "labelOverlap": false, "labelFlush": false, "labelBound": false,
      "domainColor": "#666", "tickColor": "#666", "domainWidth": 1.2, "tickWidth": 1.2,
      "labelColor": "#444", "labelFont": "DejaVu Sans", "labelFontSize": 15, "labelPadding": 0
    }
  }
},
"layer": [
  {"layer": [
    {"mark": {"type": "line", "color": "black", "strokeWidth": 1.6},
     "encoding": {"y": {"field": "a", "type": "quantitative", "scale": {"domain": [-604, 262], "nice": false, "zero": false}, "axis": null}}},
    {"data": {"values": [{"p": -87.47, "v": 28, "t": "(a)"}]},
     "mark": {"type": "text", "font": "Liberation Serif", "baseline": "alphabetic", "align": "center", "fontSize": 38, "color": "black"},
     "encoding": {"y": {"field": "v", "type": "quantitative", "scale": {"domain": [-604, 262], "nice": false, "zero": false}, "axis": null}, "text": {"field": "t"}}},
    {"data": {"values": [
      {"p": -113.69, "v": 105, "t": "C₆H₅F"},
      {"p": -132.63, "v": 36, "t": "SiF₆²⁻"},
      {"p": -143.2, "v": 37, "t": "Trace BF₄⁻"}
    ]},
     "mark": {"type": "text", "font": "Liberation Serif", "baseline": "alphabetic", "align": "left", "fontSize": 32, "color": "black"},
     "encoding": {"y": {"field": "v", "type": "quantitative", "scale": {"domain": [-604, 262], "nice": false, "zero": false}, "axis": null}, "text": {"field": "t"}}}
  ]},
  {"layer": [
    {"mark": {"type": "line", "color": "black", "strokeWidth": 1.5},
     "encoding": {"y": {"field": "b", "type": "quantitative", "scale": {"domain": [-413, 453], "nice": false, "zero": false}, "axis": null}}},
    {"data": {"values": [{"p": -87.47, "v": 25, "t": "(b)"}]},
     "mark": {"type": "text", "font": "Liberation Serif", "baseline": "alphabetic", "align": "center", "fontSize": 38, "color": "black"},
     "encoding": {"y": {"field": "v", "type": "quantitative", "scale": {"domain": [-413, 453], "nice": false, "zero": false}, "axis": null}, "text": {"field": "t"}}}
  ]},
  {"layer": [
    {"mark": {"type": "line", "color": "black", "strokeWidth": 1.5},
     "encoding": {"y": {"field": "c", "type": "quantitative", "scale": {"domain": [-211, 655], "nice": false, "zero": false}, "axis": null}}},
    {"data": {"values": [{"p": -87.47, "v": 25, "t": "(c)"}]},
     "mark": {"type": "text", "font": "Liberation Serif", "baseline": "alphabetic", "align": "center", "fontSize": 38, "color": "black"},
     "encoding": {"y": {"field": "v", "type": "quantitative", "scale": {"domain": [-211, 655], "nice": false, "zero": false}, "axis": null}, "text": {"field": "t"}}}
  ]},
  {"layer": [
    {"mark": {"type": "line", "color": "black", "strokeWidth": 1.5},
     "encoding": {"y": {"field": "d", "type": "quantitative", "scale": {"domain": [-11, 855], "nice": false, "zero": false}, "axis": null}}},
    {"data": {"values": [{"p": -87.47, "v": 27, "t": "(d)"}]},
     "mark": {"type": "text", "font": "Liberation Serif", "baseline": "alphabetic", "align": "center", "fontSize": 38, "color": "black"},
     "encoding": {"y": {"field": "v", "type": "quantitative", "scale": {"domain": [-11, 855], "nice": false, "zero": false}, "axis": null}, "text": {"field": "t"}}}
  ]}
],
"resolve": {"scale": {"y": "independent"}}
}
